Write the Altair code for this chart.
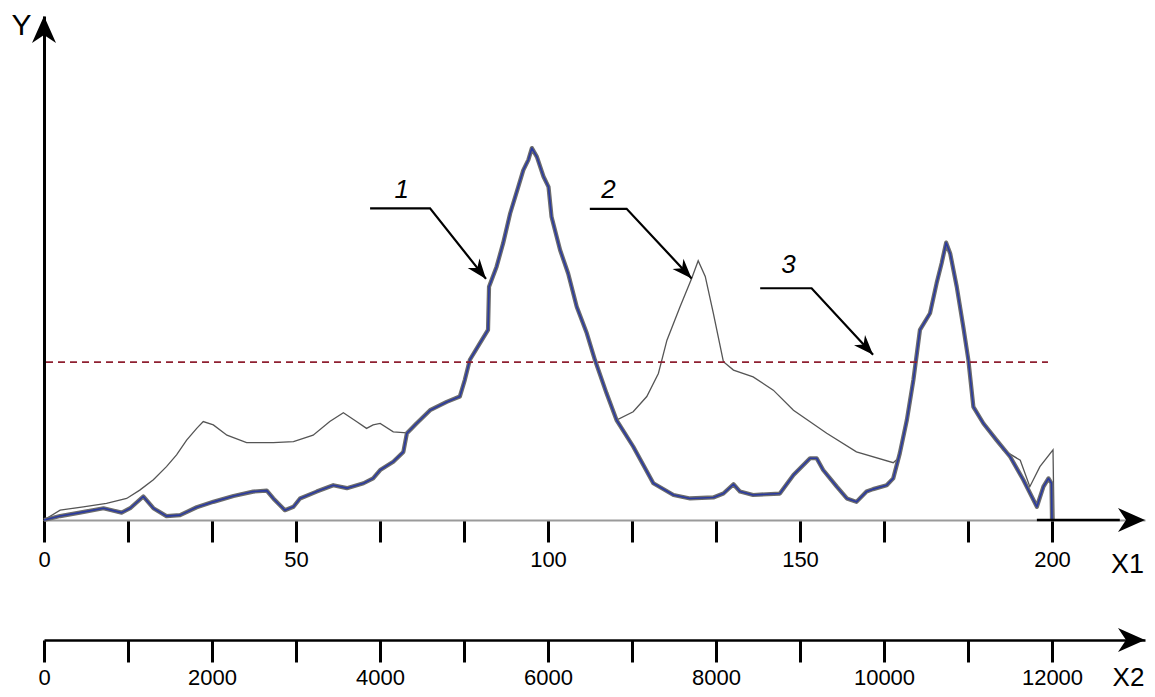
import math
import altair as alt
import pandas as pd

# ---------------- data ----------------
# curve 1 (thick, blue)
c1_x = [0, 3.2, 7.1, 11.8, 15.4, 17.1, 19.7, 21.7, 24.3, 27.0, 30.3, 33.6, 37.6, 41.5, 44.2,
        45.5, 47.8, 49.5, 50.8, 54.1, 57.4, 60.1, 63.4, 65.3, 66.7, 69.3, 71.3, 72.0, 73.9,
        76.6, 79.9, 82.5, 83.5, 84.5, 86.5, 88.1, 88.3, 89.8, 91.1, 92.5, 94.1, 95.1, 96.1,
        96.8, 97.8, 99.1, 100.1, 100.7, 102.4, 104.0, 105.7, 107.7, 109.3, 111.6, 113.6,
        116.9, 120.9, 124.9, 128.2, 132.8, 134.8, 136.8, 138.1, 140.7, 146.0, 148.7, 152.0,
        153.3, 154.6, 157.3, 159.3, 161.2, 163.2, 164.5, 167.2, 168.5, 169.8, 171.2, 172.5,
        173.8, 175.8, 177.1, 178.1, 179.0, 179.8, 181.1, 182.4, 183.4, 184.4, 186.4, 189.0,
        191.7, 194.3, 197.0, 198.3, 199.3, 199.9, 200.0]
c1_y = [0, 0.8, 1.5, 2.4, 1.5, 2.4, 4.8, 2.4, 0.8, 1.0, 2.6, 3.7, 4.9, 5.8, 6.0,
        4.4, 2.0, 2.7, 4.4, 5.8, 7.1, 6.5, 7.5, 8.5, 10.2, 11.9, 13.9, 17.7, 19.7,
        22.4, 24.1, 25.2, 28.6, 32.7, 36.1, 38.8, 47.6, 51.7, 56.5, 62.6, 68.0, 71.4, 73.5,
        75.9, 74.1, 70.1, 68.0, 61.9, 55.1, 50.3, 43.5, 38.1, 32.7, 25.9, 20.4,
        15.0, 7.5, 5.1, 4.4, 4.6, 5.4, 7.3, 5.8, 5.1, 5.4, 9.2, 12.6,
        12.6, 10.2, 6.8, 4.4, 3.7, 5.8, 6.3, 7.1, 8.5, 13.6, 20.4, 28.6,
        38.8, 42.2, 48.3, 52.4, 56.6, 54.4, 47.6, 39.4, 32.7, 23.1, 19.7, 16.3,
        12.9, 8.2, 2.7, 6.8, 8.5, 7.5, 0]

# curve 2 (thin, grey)
c2_x = [0, 3.2, 7.8, 12.4, 16.4, 19.0, 21.7, 24.3, 26.3, 28.3, 30.3, 31.6, 33.6, 36.3, 40.2,
        45.5, 49.5, 53.4, 56.7, 59.4, 62.0, 64.0, 65.3, 66.7, 69.3, 72.0, 73.9, 76.6, 79.9,
        82.5, 83.5, 84.5, 86.5, 88.1, 88.3, 89.8, 91.1, 92.5, 94.1, 95.1, 96.1, 96.8, 97.8,
        99.1, 100.1, 100.7, 102.4, 104.0, 105.7, 107.7, 109.3, 111.6, 113.6, 116.9, 119.6,
        121.9, 123.6, 126.2, 128.5, 129.8, 131.2, 132.8, 134.8, 136.8, 140.7, 144.7, 148.7,
        155.3, 161.2, 168.5, 169.5, 169.8, 171.2, 172.5, 173.8, 175.8, 177.1, 178.1, 179.0,
        179.8, 181.1, 182.4, 183.4, 184.4, 186.4, 189.0, 190.3, 193.7, 195.6, 197.6, 200.2,
        200.4]
c2_y = [0, 2.0, 2.7, 3.4, 4.4, 6.1, 8.2, 10.9, 13.3, 16.3, 18.7, 20.1, 19.4, 17.3, 15.8,
        15.8, 16.0, 17.3, 20.1, 21.9, 20.1, 18.7, 19.4, 19.7, 18.0, 17.8, 19.7, 22.4, 24.1,
        25.2, 28.6, 32.7, 36.1, 38.8, 47.6, 51.7, 56.5, 62.6, 68.0, 71.4, 73.5, 75.9, 74.1,
        70.1, 68.0, 61.9, 55.1, 50.3, 43.5, 38.1, 32.7, 25.9, 20.4, 22.1, 25.2,
        29.9, 36.7, 43.5, 49.3, 52.9, 49.7, 42.2, 32.3, 30.6, 29.2, 26.5, 22.4,
        17.7, 13.9, 11.7, 12.6, 13.6, 20.4, 28.6, 38.8, 42.2, 48.3, 52.4, 56.6,
        54.4, 47.6, 39.4, 32.7, 23.1, 19.7, 16.3, 14.3, 12.2, 6.8, 10.9, 14.3,
        0]

# line 3 (dashed level)
level_y = 32.2
level_x = [0.4, 199.2]

# axes
x1_ticks = [i * 200 / 12 for i in range(13)]
x1_labels = [0, 50, 100, 150, 200]
x2_ticks = list(range(0, 12001, 1000))
x2_labels = [0, 2000, 4000, 6000, 8000, 10000, 12000]
x2_per_x1 = 60

# callouts
ann_text = ["1", "2", "3"]
ann_text_x = [71.0, 112.0, 147.7]
ann_text_y = [67.3, 67.3, 52.0]
ann_line_x = [[64.7, 76.6, 87.7], [108.3, 115.6, 128.5], [142.1, 152.3, 164.5]]
ann_line_y = [[63.6, 63.6, 49.2], [63.5, 63.5, 49.3], [47.3, 47.3, 33.7]]

# ---------------- layout / style ----------------
W, H = 1101, 504
PXX, PXY = 5.04, 4.9
XMAX = W / PXX
YMAX = H / PXY
X2_OFFSET = 120
FONT = "Liberation Sans"
BIG_ARROW = "M0,0 L-27,-12 L-19,0 L-27,12 Z"
SMALL_ARROW = "M0,0 L-20,-7.5 L-14,0 L-20,7.5 Z"

x1_axis = alt.Axis(
    values=x1_ticks,
    labelExpr=f"indexof({x1_labels}, round(datum.value)) >= 0 && abs(datum.value - round(datum.value)) < 0.01 ? format(datum.value, '.0f') : ''",
    domainColor="#9a9a9a", domainWidth=2,
    tickColor="black", tickWidth=3, tickSize=22,
    labelFont=FONT, labelFontSize=22, labelColor="black", labelPadding=7,
    labelFlush=False, labelOverlap=False, labelBound=False, grid=False,
    title="X1", titleX=1083, titleY=44, titleAlign="center", titleBaseline="middle",
    titleAngle=0, titleFont=FONT, titleFontSize=27, titleFontWeight="normal", titleColor="black",
)
x2_axis = alt.Axis(
    orient="bottom", offset=X2_OFFSET,
    values=x2_ticks,
    labelExpr=f"indexof({x2_labels}, round(datum.value)) >= 0 ? format(datum.value, 'd') : ''",
    domainColor="black", domainWidth=2.5,
    tickColor="black", tickWidth=3, tickSize=22,
    labelFont=FONT, labelFontSize=22, labelColor="black", labelPadding=5,
    labelFlush=False, labelOverlap=False, labelBound=False, grid=False,
    title="X2", titleX=1084, titleY=37, titleAlign="center", titleBaseline="middle",
    titleAngle=0, titleFont=FONT, titleFontSize=26, titleFontWeight="normal", titleColor="black",
)
y_axis = alt.Axis(
    ticks=False, labels=False, grid=False, domainColor="black", domainWidth=3,
    title="Y", titleX=-23, titleY=9, titleAngle=0, titleAlign="center", titleBaseline="middle",
    titleFont=FONT, titleFontSize=30, titleFontWeight="normal", titleColor="black",
)

xs = alt.Scale(domain=[0, XMAX], nice=False, zero=False)
ys = alt.Scale(domain=[0, YMAX], nice=False, zero=False)


def X(field="x"):
    return alt.X(f"{field}:Q", scale=xs, axis=x1_axis)


def Y(field="y"):
    return alt.Y(f"{field}:Q", scale=ys, axis=y_axis)


df1 = pd.DataFrame({"x": c1_x, "y": c1_y, "i": range(len(c1_x))})
df2 = pd.DataFrame({"x": c2_x, "y": c2_y, "i": range(len(c2_x))})

curve2 = alt.Chart(df2).mark_line(color="#555555", strokeWidth=1.3).encode(
    x=X(), y=Y(), order="i:Q")
halo1 = alt.Chart(df1).mark_line(color="#6c6c6c", strokeWidth=4.2, strokeJoin="round").encode(
    x=X(), y=Y(), order="i:Q")
blue1 = alt.Chart(df1).mark_line(color="#2a3aa0", strokeWidth=1.6, strokeJoin="round").encode(
    x=X(), y=Y(), order="i:Q")

level_df = pd.DataFrame({"x": [level_x[0]], "x_end": [level_x[1]], "y": [level_y]})
level = alt.Chart(level_df).mark_rule(color="#8e1f30", strokeWidth=1.8, strokeDash=[7, 5]).encode(
    x=X(), x2="x_end:Q", y=Y())

# black part of the X1 axis near its arrow
axis_tip_df = pd.DataFrame({"x": [197.0], "x_end": [XMAX - 5], "y": [0.0]})
axis_tip = alt.Chart(axis_tip_df).mark_rule(color="black", strokeWidth=2.5).encode(
    x=X(), x2="x_end:Q", y=Y())

rows = []
for g, (lx, ly) in enumerate(zip(ann_line_x, ann_line_y)):
    for k, (a, b) in enumerate(zip(lx, ly)):
        rows.append({"g": g, "k": k, "x": a, "y": b})
lines_df = pd.DataFrame(rows)
leaders = alt.Chart(lines_df).mark_line(color="black", strokeWidth=2.2).encode(
    x=X(), y=Y(), detail="g:N", order="k:Q")

heads = []
for lx, ly in zip(ann_line_x, ann_line_y):
    dx = (lx[2] - lx[1]) * PXX
    dy = (ly[1] - ly[2]) * PXY
    heads.append({"x": lx[2], "y": ly[2], "a": math.degrees(math.atan2(dy, dx))})
heads_df = pd.DataFrame(heads)
ann_heads = alt.Chart(heads_df).mark_point(
    shape=SMALL_ARROW, size=4, filled=True, color="black", opacity=1, strokeWidth=0
).encode(x=X(), y=Y(), angle=alt.Angle("a:Q", scale=None))

text_df = pd.DataFrame({"x": ann_text_x, "y": ann_text_y, "t": ann_text})
ann_texts = alt.Chart(text_df).mark_text(
    font=FONT, fontSize=26, fontStyle="italic", color="black", align="center", baseline="middle"
).encode(x=X(), y=Y(), text="t:N")

axis_heads_df = pd.DataFrame({"x": [XMAX, 0.0], "y": [0.0, YMAX], "a": [0, 270]})
axis_heads = alt.Chart(axis_heads_df).mark_point(
    shape=BIG_ARROW, size=4, filled=True, color="black", opacity=1, strokeWidth=0
).encode(x=X(), y=Y(), angle=alt.Angle("a:Q", scale=None))

main = alt.layer(curve2, halo1, blue1, level, axis_tip, leaders, ann_heads, ann_texts, axis_heads)

x2_df = pd.DataFrame({"x": [XMAX * x2_per_x1], "y": [-X2_OFFSET / PXY], "a": [0]})
x2_layer = alt.Chart(x2_df).mark_point(
    shape=BIG_ARROW, size=4, filled=True, color="black", opacity=1, strokeWidth=0
).encode(
    x=alt.X("x:Q", scale=alt.Scale(domain=[0, XMAX * x2_per_x1], nice=False, zero=False), axis=x2_axis),
    y=Y(),
    angle=alt.Angle("a:Q", scale=None),
)

chart = (
    alt.layer(main, x2_layer)
    .resolve_scale(x="independent")
    .resolve_axis(x="independent")
    .properties(
        width=W, height=H,
        autosize=alt.AutoSizeParams(type="none"),
        padding={"left": 36, "top": 8, "right": 2, "bottom": 170},
        background="white",
    )
    .configure_view(stroke=None)
)

chart.save("out.html", embed_options={"renderer": "svg", "actions": False})
